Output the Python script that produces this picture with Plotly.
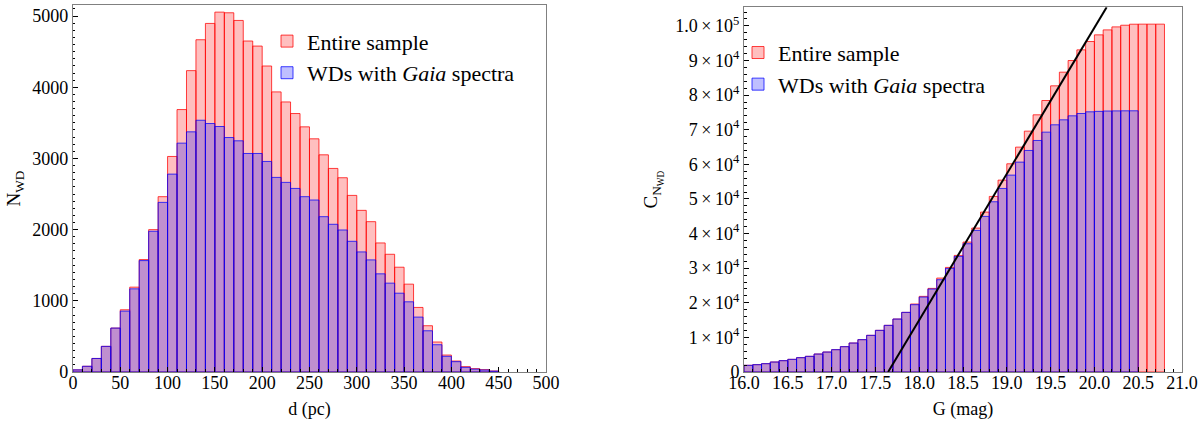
import numpy as np
import plotly.graph_objects as go

# left panel: distance histogram (bins of 10 pc)
d_left = np.arange(0, 450, 10)
n_entire = [30, 80, 190, 360, 617, 874, 1192, 1579, 2000, 2463,
            3028, 3687, 4234, 4668, 4897, 5056, 5047, 4939, 4650, 4579,
            4299, 3935, 3794, 3631, 3444, 3276, 3051, 2860, 2729, 2481,
            2271, 2112, 1813, 1654, 1472, 1234, 907, 650, 421, 238,
            154, 75, 47, 33, 14]
n_gaia = [30, 80, 190, 360, 617, 855, 1168, 1565, 1977, 2383,
          2780, 3215, 3374, 3537, 3491, 3449, 3294, 3248, 3070, 3070,
          2958, 2734, 2664, 2579, 2463, 2416, 2182, 2075, 1995, 1836,
          1687, 1575, 1379, 1248, 1107, 986, 771, 579, 383, 220,
          145, 65, 40, 28, 12]

# right panel: cumulative counts vs G (bins of 0.1 mag)
g_entire = np.round(np.arange(16.0, 20.75, 0.1), 1)
g_gaia = g_entire[:45]
c_entire = [1925, 2117, 2406, 2887, 3272, 3657, 4138, 4523, 5197, 5775,
            6449, 7315, 8373, 9336, 10587, 12031, 13474, 15303, 17228, 19634,
            21848, 24157, 27142, 30221, 33686, 37536, 41578, 46198, 50722, 55438,
            60154, 64966, 69586, 74302, 78441, 82676, 86622, 89990, 93070, 95477,
            97401, 98845, 99711, 100192, 100481, 100500, 100500, 100500]
c_gaia = [1925, 2117, 2406, 2887, 3272, 3657, 4138, 4523, 5197, 5775,
          6449, 7315, 8373, 9336, 10587, 12031, 13474, 15303, 17228, 19442,
          21655, 23965, 26660, 29933, 33397, 37055, 40905, 44947, 49182, 53032,
          56882, 60635, 64004, 66891, 69297, 71415, 72858, 74013, 74687, 75168,
          75300, 75400, 75440, 75457, 75460]

# linear fit line
fit_g = [17.645, 20.14]
fit_c = [0, 105400]

c_ticks = [0, 10000, 20000, 30000, 40000, 50000, 60000, 70000, 80000, 90000, 100000]
c_ticktext = ["0"] + [f"{i}\u2009×\u200910<sup>4</sup>" for i in range(1, 10)] + ["1.0\u2009×\u200910<sup>5</sup>"]

SERIF = "Liberation Serif, Times New Roman, DejaVu Serif, serif"
red_fill = "rgba(255,0,0,0.25)"
red_edge = "rgba(255,0,0,0.75)"
blue_fill = "rgba(0,0,255,0.25)"
blue_edge = "rgba(0,0,255,0.75)"

fig = go.Figure()

fig.add_trace(go.Bar(x=d_left, y=n_entire, width=10, offset=0,
                     marker=dict(color=red_fill, line=dict(color=red_edge, width=1)),
                     name="Entire sample", legend="legend", xaxis="x", yaxis="y"))
fig.add_trace(go.Bar(x=d_left, y=n_gaia, width=10, offset=0,
                     marker=dict(color=blue_fill, line=dict(color=blue_edge, width=1)),
                     name="WDs with <i>Gaia</i> spectra", legend="legend", xaxis="x", yaxis="y"))

fig.add_trace(go.Bar(x=g_entire, y=c_entire, width=0.1, offset=0,
                     marker=dict(color=red_fill, line=dict(color=red_edge, width=1)),
                     name="Entire sample", legend="legend2", xaxis="x2", yaxis="y2"))
fig.add_trace(go.Bar(x=g_gaia, y=c_gaia, width=0.1, offset=0,
                     marker=dict(color=blue_fill, line=dict(color=blue_edge, width=1)),
                     name="WDs with <i>Gaia</i> spectra", legend="legend2", xaxis="x2", yaxis="y2"))
fig.add_trace(go.Scatter(x=fit_g, y=fit_c, mode="lines", line=dict(color="black", width=2),
                         showlegend=False, xaxis="x2", yaxis="y2"))

axis_common = dict(showgrid=False, zeroline=False, showline=True, mirror=True,
                   linecolor="#808080", linewidth=1, ticks="inside", ticklen=5,
                   tickcolor="black", automargin=False,
                   tickfont=dict(family=SERIF, size=18, color="black"))

fig.update_layout(
    width=1200, height=423,
    margin=dict(l=0, r=0, t=0, b=0),
    paper_bgcolor="white", plot_bgcolor="white",
    barmode="overlay",
    font=dict(family=SERIF, color="black"),
    xaxis=dict(domain=[0.0608, 0.455], range=[0, 500], tickvals=list(range(0, 501, 50)),
               ticklabelstandoff=-6,
               minor=dict(ticks="inside", dtick=10, ticklen=2.5, tickcolor="black"),
               title=dict(text="d (pc)", font=dict(size=18), standoff=10), **axis_common),
    yaxis=dict(domain=[0.1206, 0.988], range=[0, 5155], dtick=1000,
               minor=dict(ticks="inside", dtick=100, ticklen=2.5, tickcolor="black"),
               title=dict(text="N<sub>WD</sub>", font=dict(size=19), standoff=6), **axis_common),
    xaxis2=dict(domain=[0.62, 0.985], range=[16, 21], dtick=0.5, tickformat=".1f", anchor="y2",
                ticklabelstandoff=-6,
                minor=dict(ticks="inside", dtick=0.1, ticklen=2.5, tickcolor="black"),
                title=dict(text="G (mag)", font=dict(size=18), standoff=10), **axis_common),
    yaxis2=dict(domain=[0.1206, 0.983], range=[0, 105400], tickvals=c_ticks, ticktext=c_ticktext,
                anchor="x2",
                minor=dict(ticks="inside", dtick=2000, ticklen=2.5, tickcolor="black"),
                title=dict(text="C<sub>N<sub>WD</sub></sub>", font=dict(size=19), standoff=12),
                **axis_common),
    legend=dict(x=0.2225, y=0.952, xanchor="left", yanchor="top", bgcolor="rgba(0,0,0,0)",
                font=dict(family=SERIF, size=22), itemwidth=30),
    legend2=dict(x=0.615, y=0.925, xanchor="left", yanchor="top", bgcolor="rgba(0,0,0,0)",
                 font=dict(family=SERIF, size=22), itemwidth=30),
)

fig.write_html("out.html", config={"displayModeBar": False},
               post_script="document.body.style.margin='0';")
